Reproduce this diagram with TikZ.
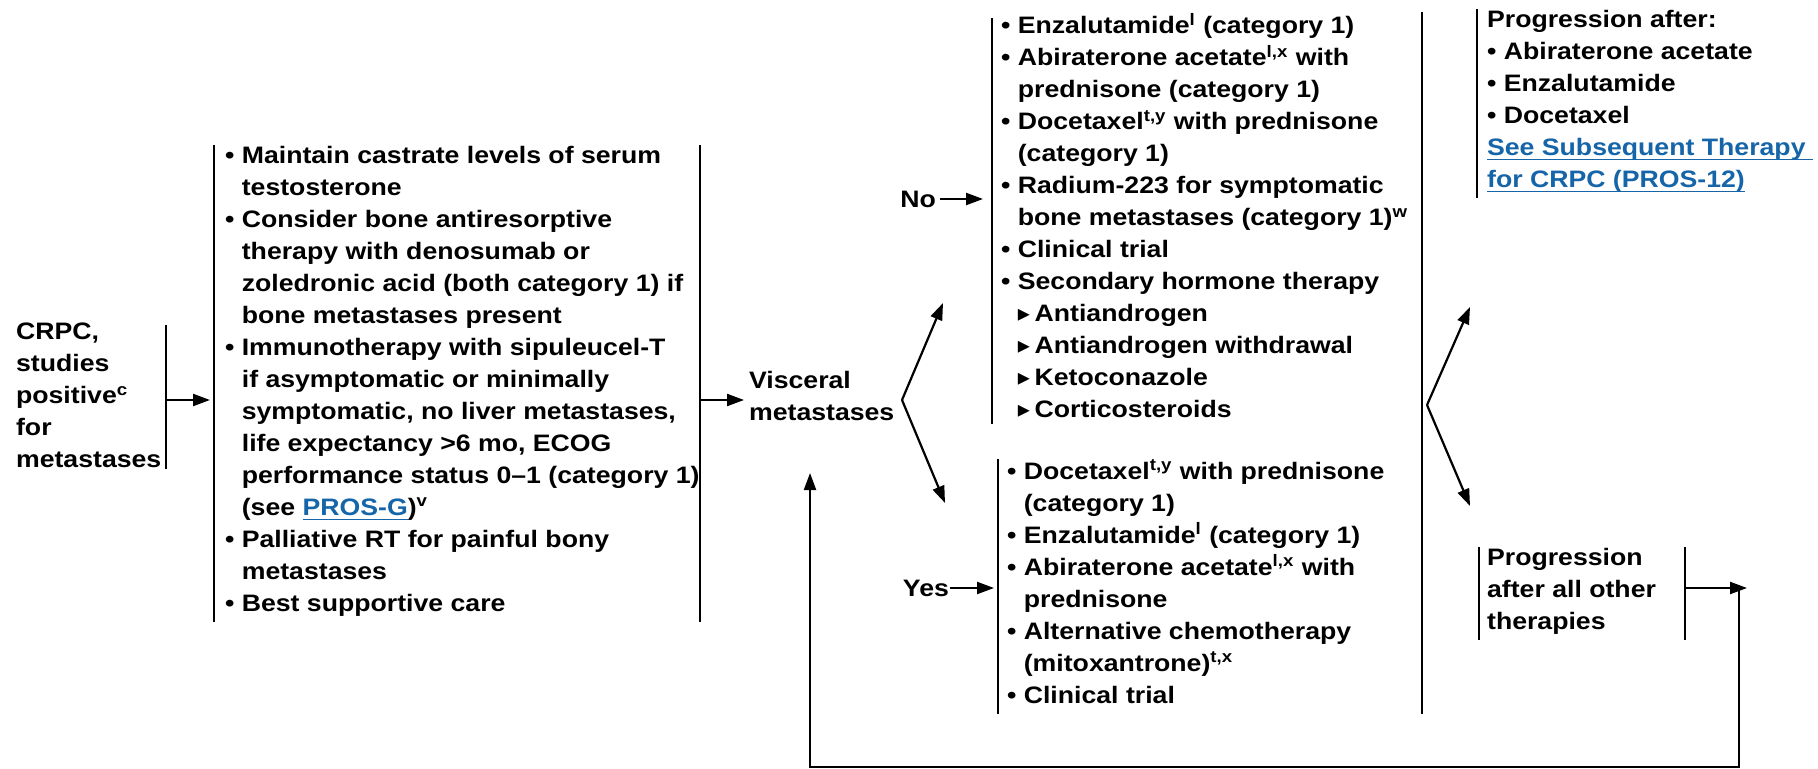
\documentclass[tikz,border=0pt]{standalone}
\usepackage{fontspec}
\setmainfont[FakeStretch=1.12]{Liberation Sans}
\newfontfamily\symfont{DejaVu Sans}
\usepackage{xcolor}
\usetikzlibrary{arrows.meta}
\definecolor{linkblue}{RGB}{22,101,168}
\newcommand{\bul}{•\ }
\newcommand{\ind}{\hphantom{•\ }}
\newcommand{\tri}{\makebox[8.4pt][l]{\symfont\fontsize{12}{12}\selectfont ▸}}
\newcommand{\lnk}[1]{\textcolor{linkblue}{\setbox0=\hbox{#1}\rlap{\rule[-2.5pt]{\wd0}{0.9pt}}\box0}}

\begin{document}
\begin{tikzpicture}[x=0.5pt, y=-0.5pt, line width=1.1pt,
  txt/.style={anchor=north west, align=left, inner xsep=4pt, inner ysep=0pt,
    font=\fontsize{11.9}{16}\selectfont\bfseries,
    execute at begin node=\strut, execute at end node=\strut},
  lbl/.style={inner sep=0pt, font=\fontsize{11.9}{16}\selectfont\bfseries},
  arr/.style={-{Triangle[length=8.5pt,width=6pt]}}]
  \useasboundingbox (0,0) rectangle (1818,769);
  % entrada
  \node[txt] (crpc) at (7,322) {CRPC,\\studies\\positive\textsuperscript{c}\\for\\metastases};
  \coordinate (crpcR) at (166,400);
  \draw[shorten <=1.5pt, shorten >=4.5pt] (crpcR |- crpc.north) -- (crpcR |- crpc.south);
  % conduta inicial
  \node[txt, inner xsep=5pt] (mgmt) at (214,145) {\bul Maintain castrate levels of serum\\
    \ind testosterone\\
    \bul Consider bone antiresorptive\\
    \ind therapy with denosumab or\\
    \ind zoledronic acid (both category 1) if\\
    \ind bone metastases present\\
    \bul Immunotherapy with sipuleucel-T\\
    \ind if asymptomatic or minimally\\
    \ind symptomatic, no liver metastases,\\
    \ind life expectancy >6 mo, ECOG\\
    \ind performance status 0–1 (category 1)\\
    \ind (see \lnk{PROS-G})\textsuperscript{v}\\
    \bul Palliative RT for painful bony\\
    \ind metastases\\
    \bul Best supportive care};
  \coordinate (mgmtR) at (700,400);
  \draw (mgmt.north west) -- (mgmt.south west);
  \draw (mgmtR |- mgmt.north) -- (mgmtR |- mgmt.south);
  \draw[arr, shorten >=2pt] (crpcR) -- (mgmt.west |- crpcR);
  % visceral
  \node[txt, inner xsep=0pt] (visc) at (748,370) {Visceral\\metastases};
  \draw[arr, shorten >=2pt] (mgmtR) -- (visc.west |- mgmtR);
  \coordinate (vf) at (902,400);
  \coordinate (vfup) at (943,303);
  \coordinate (vfdn) at (945,503);
  \draw[arr] (vf) -- (vfup);
  \draw[arr] (vf) -- (vfdn);
  % sem metastase visceral
  \node[lbl, anchor=east] (no) at (937,199) {No};
  \node[txt] (nobox) at (992,12) {\bul Enzalutamide\textsuperscript{l} (category 1)\\
    \bul Abiraterone acetate\textsuperscript{l,x} with\\
    \ind prednisone (category 1)\\
    \bul Docetaxel\textsuperscript{t,y} with prednisone\\
    \ind (category 1)\\
    \bul Radium-223 for symptomatic\\
    \ind bone metastases (category 1)\textsuperscript{w}\\
    \bul Clinical trial\\
    \bul Secondary hormone therapy\\
    \ind\tri Antiandrogen\\
    \ind\tri Antiandrogen withdrawal\\
    \ind\tri Ketoconazole\\
    \ind\tri Corticosteroids};
  \draw[shorten <=3pt, shorten >=2.5pt] (nobox.north west) -- (nobox.south west);
  \draw[arr, shorten <=1.5pt, shorten >=4.5pt] (no.east) -- (nobox.west |- no.east);
  % com metastase visceral
  \node[lbl, anchor=east] (yes) at (950,588) {Yes};
  \node[txt] (yesbox) at (998,459) {\bul Docetaxel\textsuperscript{t,y} with prednisone\\
    \ind (category 1)\\
    \bul Enzalutamide\textsuperscript{l} (category 1)\\
    \bul Abiraterone acetate\textsuperscript{l,x} with\\
    \ind prednisone\\
    \bul Alternative chemotherapy\\
    \ind (mitoxantrone)\textsuperscript{t,x}\\
    \bul Clinical trial};
  \draw (yesbox.north west) -- (yesbox.south west);
  \draw[arr, shorten >=2pt] (yes.east) -- (yesbox.west |- yes.east);
  \coordinate (treatR) at (1422,405);
  \draw (treatR |- nobox.north) -- (treatR |- yesbox.south);
  % progressao
  \coordinate (pf) at (1427,405);
  \coordinate (pfup) at (1470,307);
  \coordinate (pfdn) at (1470,506);
  \draw[arr] (pf) -- (pfup);
  \draw[arr] (pf) -- (pfdn);
  \node[txt, inner xsep=4.5pt] (progA) at (1477,9) {Progression after:\\
    \bul Abiraterone acetate\\
    \bul Enzalutamide\\
    \bul Docetaxel\\
    \lnk{See Subsequent Therapy\ }\\
    \lnk{for CRPC (PROS-12)}};
  \draw (progA.north west) -- (progA.south west);
  \node[txt, inner xsep=3.5pt] (progB) at (1479,547) {Progression\\after all other\\therapies};
  \coordinate (progBR) at (1685,588);
  \draw (progB.north west) -- (progB.south west);
  \draw (progBR |- progB.north) -- (progBR |- progB.south);
  % volta para metastase visceral
  \coordinate (lpA) at (1747,588);
  \coordinate (lpB) at (1739,767);
  \coordinate (lpC) at (810,767);
  \coordinate (lpD) at (810,473);
  \draw[arr] (progBR) -- (lpA);
  \draw[arr] (lpB |- lpA) -- (lpB) -- (lpC) -- (lpD);
\end{tikzpicture}
\end{document}
